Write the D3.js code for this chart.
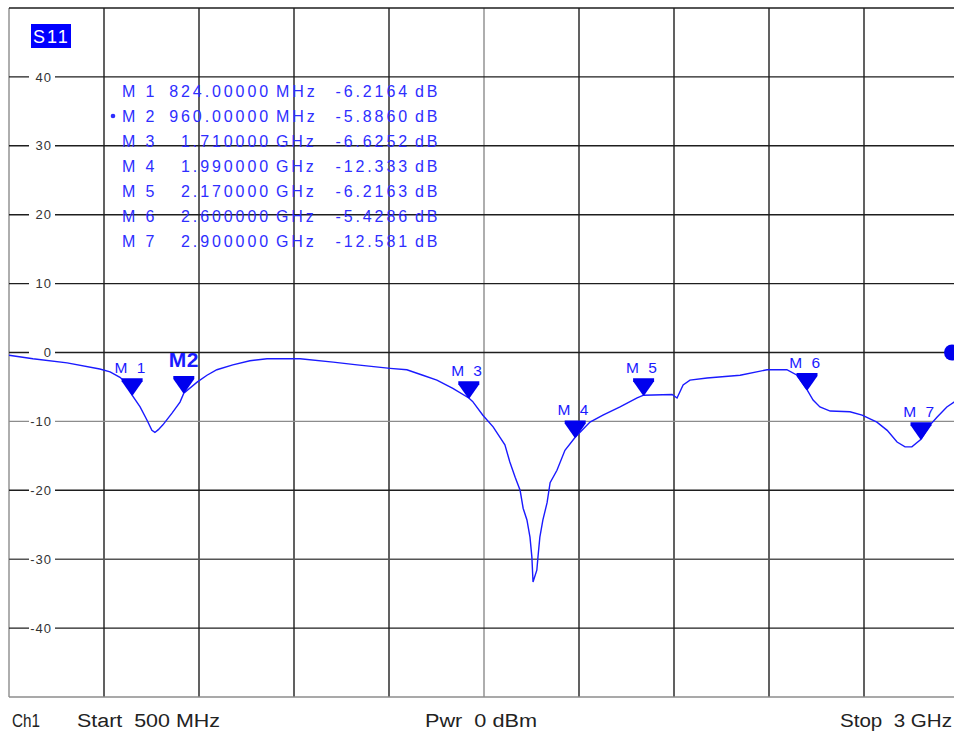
<!DOCTYPE html>
<html lang="en">
<head>
<meta charset="UTF-8">
<title>S11</title>
<script src="https://cdnjs.cloudflare.com/ajax/libs/d3/7.8.5/d3.min.js"></script>
<style>
    body { margin: 0; background: #fff; }
    svg { display: block; }
</style>
</head>
<body>
<div id="wrapper"></div>
<script>
// trace (MHz, dB)
const traceFreq = [500, 563, 653, 739, 766, 792, 812, 824, 845, 863, 876, 884, 893, 905, 929, 950, 960, 995, 1021, 1047, 1089, 1134, 1179, 1266, 1353, 1416, 1503, 1547, 1589, 1626, 1668, 1710, 1720, 1747, 1774, 1805, 1818, 1832, 1845, 1853, 1863, 1871, 1876, 1879, 1889, 1892, 1897, 1905, 1916, 1924, 1942, 1963, 1990, 2029, 2063, 2108, 2153, 2170, 2245, 2258, 2274, 2292, 2337, 2424, 2495, 2547, 2574, 2600, 2616, 2634, 2661, 2713, 2745, 2784, 2811, 2837, 2858, 2876, 2900, 2924, 2942, 2968, 2987, 3000]
const traceDb = [-0.4, -0.9, -1.5, -2.4, -2.8, -3.6, -4.6, -6.2, -7.9, -9.8, -11.3, -11.6, -11.2, -10.5, -8.8, -7.2, -5.9, -4.3, -3.3, -2.5, -1.8, -1.2, -0.9, -0.9, -1.4, -1.8, -2.3, -2.5, -3.3, -4.0, -5.2, -6.6, -7.1, -9.1, -10.8, -13.4, -15.9, -18.1, -20.0, -22.6, -24.3, -26.8, -29.7, -33.3, -31.6, -29.7, -26.8, -24.3, -21.8, -18.9, -17.1, -14.2, -12.3, -10.1, -9.1, -7.9, -6.6, -6.2, -6.1, -6.6, -4.7, -4.0, -3.7, -3.3, -2.5, -2.5, -3.3, -5.4, -6.9, -7.9, -8.5, -8.6, -9.1, -10.1, -11.3, -13.0, -13.7, -13.7, -12.6, -10.5, -9.4, -7.9, -7.2, -6.8]

// markers
const markerNames = ['M 1', 'M2', 'M 3', 'M 4', 'M 5', 'M 6', 'M 7']
const markerRows = ['M 1', 'M 2', 'M 3', 'M 4', 'M 5', 'M 6', 'M 7']
const markerFreq = [824, 960, 1710, 1990, 2170, 2600, 2900]
const markerDb = [-6.2164, -5.886, -6.6252, -12.333, -6.2163, -5.4286, -12.581]
const markerFreqText = ['824.00000', '960.00000', '1.710000', '1.990000', '2.170000', '2.600000', '2.900000']
const markerUnit = ['MHz', 'MHz', 'GHz', 'GHz', 'GHz', 'GHz', 'GHz']
const markerDbText = ['-6.2164', '-5.8860', '-6.6252', '-12.333', '-6.2163', '-5.4286', '-12.581']
const activeMarker = 1

// axes
const freqTicks = [500, 750, 1000, 1250, 1500, 1750, 2000, 2250, 2500, 2750, 3000]
const dbTicks = [50, 40, 30, 20, 10, 0, -10, -20, -30, -40, -50]
const dbLabels = [40, 30, 20, 10, 0, -10, -20, -30, -40]
const footer = ['Ch1', 'Start  500 MHz', 'Pwr  0 dBm', 'Stop  3 GHz']

const dimensions = {
    width: 954,
    height: 731,
    margin: { top: 8, left: 9, right: -5, bottom: 34 }
}
dimensions.boundedWidth = dimensions.width - dimensions.margin.left - dimensions.margin.right
dimensions.boundedHeight = dimensions.height - dimensions.margin.top - dimensions.margin.bottom

const svg = d3.select('#wrapper').append('svg')
    .attr('width', dimensions.width)
    .attr('height', dimensions.height)

const bounds = svg.append('g')
    .attr('transform', `translate(${dimensions.margin.left},${dimensions.margin.top})`)

const xScale = d3.scaleLinear().domain([500, 3000]).range([0, dimensions.boundedWidth])
const yScale = d3.scaleLinear().domain([-50, 50]).range([dimensions.boundedHeight, 0])

const black = '#1e1e1e'
const grey = '#8c8c8c'
const blue = '#1a1aff'

// grid
bounds.append('g').selectAll('line')
    .data(freqTicks)
    .join('line')
    .attr('x1', d => xScale(d)).attr('x2', d => xScale(d))
    .attr('y1', 0).attr('y2', dimensions.boundedHeight)
    .attr('stroke', d => (d === 1750 || d === 500) ? grey : black)
    .attr('stroke-width', 1.4)

bounds.append('g').selectAll('line')
    .data(dbTicks)
    .join('line')
    .attr('x1', 0).attr('x2', dimensions.boundedWidth)
    .attr('y1', d => yScale(d)).attr('y2', d => yScale(d))
    .attr('stroke', d => (d === -10 || d === -50) ? grey : (d === -30 ? '#555' : black))
    .attr('stroke-width', 1.4)

// y labels over grid lines
const yLab = bounds.append('g').selectAll('g')
    .data(dbLabels)
    .join('g')
    .attr('transform', d => `translate(0,${yScale(d)})`)
yLab.append('rect')
    .attr('x', 20).attr('y', -7).attr('width', 26).attr('height', 14)
    .attr('fill', '#fff')
yLab.append('text')
    .attr('x', 43).attr('y', 0)
    .attr('dy', '0.36em')
    .attr('text-anchor', 'end')
    .attr('fill', '#333')
    .style('font-family', 'Liberation Sans, Arial, sans-serif')
    .style('font-size', '13px')
    .style('letter-spacing', '1px')
    .text(d => d)

// S11 badge
bounds.append('rect')
    .attr('x', 22).attr('y', 16).attr('width', 40).attr('height', 24)
    .attr('fill', '#0000ff')
bounds.append('text')
    .attr('x', 24).attr('y', 34.5)
    .attr('fill', '#fff')
    .style('font-family', 'Liberation Sans, Arial, sans-serif')
    .style('font-size', '18px')
    .style('letter-spacing', '2px')
    .text('S11')

// marker table
const tableFont = 'Liberation Sans, Arial, sans-serif'
const rows = bounds.append('g').selectAll('g')
    .data(markerRows)
    .join('g')
    .attr('transform', (d, i) => `translate(0,${89 + i * 25})`)
    .attr('fill', '#2e2eff')
    .style('font-family', tableFont)
    .style('font-size', '16px')
    .style('letter-spacing', '2.9px')
rows.append('text').attr('x', 113).text(d => d)
rows.append('text').attr('x', 262).attr('text-anchor', 'end').text((d, i) => markerFreqText[i])
rows.append('text').attr('x', 267).text((d, i) => markerUnit[i])
rows.append('text').attr('x', 401).attr('text-anchor', 'end').text((d, i) => markerDbText[i])
rows.append('text').attr('x', 406).text('dB')
rows.filter((d, i) => i === activeMarker)
    .append('circle')
    .attr('cx', 104).attr('cy', -6).attr('r', 2.3)

// trace
const trace = d3.zip(traceFreq, traceDb)
const lineGen = d3.line()
    .x(d => xScale(d[0]))
    .y(d => yScale(d[1]))
bounds.append('path')
    .datum(trace)
    .attr('d', lineGen)
    .attr('fill', 'none')
    .attr('stroke', blue)
    .attr('stroke-width', 1.4)

// markers on trace
const markers = bounds.append('g').selectAll('g')
    .data(markerNames)
    .join('g')
    .attr('transform', (d, i) => `translate(${xScale(markerFreq[i])},${yScale(markerDb[i])})`)
markers.append('path')
    .attr('d', 'M-10.5,-17 H10.5 V-14 L0.7,0 L-0.7,0 L-10.5,-14 Z')
    .attr('fill', '#0000ee')
markers.append('text')
    .attr('x', (d, i) => i === activeMarker ? 0 : -1)
    .attr('y', (d, i) => i === activeMarker ? -26 : -22)
    .attr('text-anchor', 'middle')
    .attr('fill', '#1a1aff')
    .style('font-family', tableFont)
    .style('font-size', (d, i) => i === activeMarker ? '21px' : '15.5px')
    .style('font-weight', (d, i) => i === activeMarker ? 'bold' : 'normal')
    .style('letter-spacing', (d, i) => i === activeMarker ? '0.5px' : '2.5px')
    .text(d => d)

// reference level pointer on the right edge
bounds.append('circle')
    .attr('cx', xScale(3000) - 7)
    .attr('cy', yScale(0))
    .attr('r', 8)
    .attr('fill', '#0000ee')

// footer
const footerX = [12, 77, 425, 840]
const footerW = [28, 143, 112, 112]
svg.append('g').selectAll('text')
    .data(footer)
    .join('text')
    .attr('x', (d, i) => footerX[i])
    .attr('y', 727)
    .attr('textLength', (d, i) => footerW[i])
    .attr('lengthAdjust', 'spacingAndGlyphs')
    .attr('fill', '#222')
    .style('font-family', 'Liberation Sans Narrow, Liberation Sans, Arial, sans-serif')
    .style('font-size', '18px')
    .style('white-space', 'pre')
    .text(d => d)
</script>
</body>
</html>
